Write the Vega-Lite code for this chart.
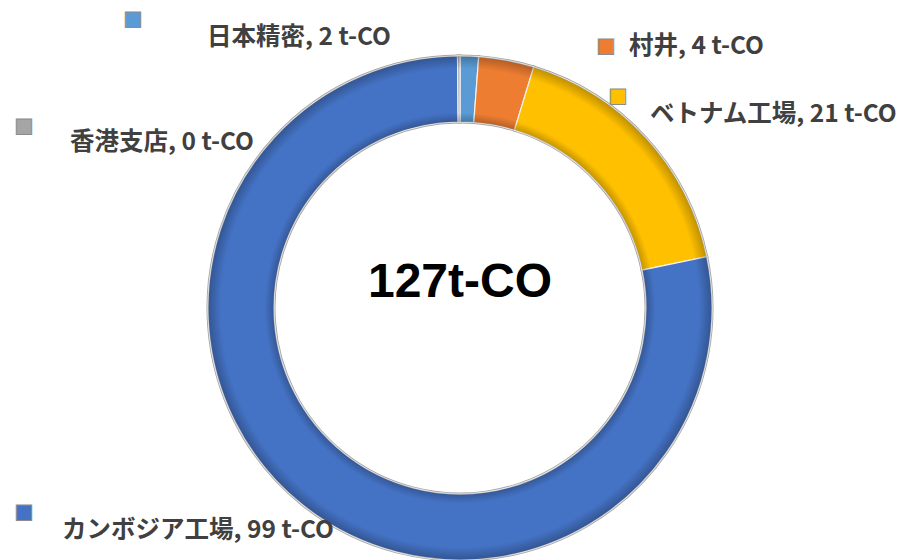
{
  "$schema": "https://vega.github.io/schema/vega-lite/v6.json",
  "width": 896,
  "height": 504,
  "padding": {"left": 12, "top": 56, "right": 0, "bottom": 0},
  "autosize": {"type": "none"},
  "background": "white",
  "view": {"stroke": null},
  "datasets": {
    "emissions": [
      {"name": "日本精密", "value": 1.5, "order": 1, "label": "日本精密, 2 t-CO"},
      {"name": "村井", "value": 4.5, "order": 2, "label": "村井, 4 t-CO"},
      {"name": "ベトナム工場", "value": 21.6, "order": 3, "label": "ベトナム工場, 21 t-CO"},
      {"name": "カンボジア工場", "value": 99.2, "order": 4, "label": "カンボジア工場, 99 t-CO"},
      {"name": "香港支店", "value": 0.2, "order": 5, "label": "香港支店, 0 t-CO"}
    ],
    "total": [{"total": 127, "label": "127t-CO"}]
  },
  "data": {"name": "emissions"},
  "layer": [
    {
      "mark": {"type": "arc", "radius": 252, "innerRadius": 186, "stroke": "#A6A6A6", "strokeWidth": 3},
      "encoding": {
        "theta": {"field": "value", "type": "quantitative", "stack": true},
        "order": {"field": "order", "type": "quantitative"},
        "color": {"field": "name", "type": "nominal", "legend": null,
          "scale": {"domain": ["日本精密", "村井", "ベトナム工場", "カンボジア工場", "香港支店"],
                    "range": ["#5B9BD5", "#ED7D31", "#FFC000", "#4472C4", "#A5A5A5"]}}
      }
    },
    {
      "mark": {"type": "arc", "radius": 252, "innerRadius": 186, "stroke": "#F2F2F2", "strokeWidth": 1.2},
      "encoding": {
        "theta": {"field": "value", "type": "quantitative", "stack": true},
        "order": {"field": "order", "type": "quantitative"},
        "color": {"field": "name", "type": "nominal", "legend": null}
      }
    },
    {
      "data": {"name": "total"},
      "mark": {"type": "arc", "radius": 252, "innerRadius": 186, "strokeWidth": 0,
        "fill": {"gradient": "radial", "x1": 0.5, "y1": 0.5, "r1": 0, "x2": 0.5, "y2": 0.5, "r2": 0.5,
          "stops": [
            {"offset": 0, "color": "rgba(0,0,0,0)"},
            {"offset": 0.74, "color": "rgba(0,0,0,0.22)"},
            {"offset": 0.775, "color": "rgba(0,0,0,0)"},
            {"offset": 0.95, "color": "rgba(0,0,0,0)"},
            {"offset": 1, "color": "rgba(0,0,0,0.25)"}
          ]}},
      "encoding": {"theta": {"field": "total", "type": "quantitative"}}
    },
    {
      "data": {"name": "total"},
      "mark": {"type": "text", "font": "Liberation Sans", "fontWeight": "bold", "fontSize": 48, "color": "black", "align": "center", "baseline": "alphabetic", "dy": -11},
      "encoding": {"text": {"field": "label", "type": "nominal"}}
    },
    {
      "transform": [{"filter": "datum.name == '日本精密'"}],
      "mark": {"type": "text", "text": "■", "font": "DejaVu Sans", "fontSize": 20, "align": "center", "baseline": "middle", "stroke": "#8C8C8C", "strokeWidth": 1, "dx": -327, "dy": -289},
      "encoding": {"color": {"field": "name", "type": "nominal", "legend": null}}
    },
    {
      "transform": [{"filter": "datum.name == '村井'"}],
      "mark": {"type": "text", "text": "■", "font": "DejaVu Sans", "fontSize": 20, "align": "center", "baseline": "middle", "stroke": "#8C8C8C", "strokeWidth": 1, "dx": 146, "dy": -262},
      "encoding": {"color": {"field": "name", "type": "nominal", "legend": null}}
    },
    {
      "transform": [{"filter": "datum.name == 'ベトナム工場'"}],
      "mark": {"type": "text", "text": "■", "font": "DejaVu Sans", "fontSize": 20, "align": "center", "baseline": "middle", "stroke": "#8C8C8C", "strokeWidth": 1, "dx": 158, "dy": -212},
      "encoding": {"color": {"field": "name", "type": "nominal", "legend": null}}
    },
    {
      "transform": [{"filter": "datum.name == '香港支店'"}],
      "mark": {"type": "text", "text": "■", "font": "DejaVu Sans", "fontSize": 20, "align": "center", "baseline": "middle", "stroke": "#8C8C8C", "strokeWidth": 1, "dx": -436, "dy": -182},
      "encoding": {"color": {"field": "name", "type": "nominal", "legend": null}}
    },
    {
      "transform": [{"filter": "datum.name == 'カンボジア工場'"}],
      "mark": {"type": "text", "text": "■", "font": "DejaVu Sans", "fontSize": 20, "align": "center", "baseline": "middle", "stroke": "#8C8C8C", "strokeWidth": 1, "dx": -436, "dy": 204},
      "encoding": {"color": {"field": "name", "type": "nominal", "legend": null}}
    },
    {
      "transform": [{"filter": "datum.name == '日本精密'"}],
      "mark": {"type": "text", "font": "Noto Sans CJK JP", "fontWeight": "bold", "fontSize": 24.5, "color": "#404040", "align": "left", "baseline": "middle", "dx": -253, "dy": -270},
      "encoding": {"text": {"field": "label", "type": "nominal"}}
    },
    {
      "transform": [{"filter": "datum.name == '村井'"}],
      "mark": {"type": "text", "font": "Noto Sans CJK JP", "fontWeight": "bold", "fontSize": 24.5, "color": "#404040", "align": "left", "baseline": "middle", "dx": 169, "dy": -261},
      "encoding": {"text": {"field": "label", "type": "nominal"}}
    },
    {
      "transform": [{"filter": "datum.name == 'ベトナム工場'"}],
      "mark": {"type": "text", "font": "Noto Sans CJK JP", "fontWeight": "bold", "fontSize": 24.5, "color": "#404040", "align": "left", "baseline": "middle", "dx": 190, "dy": -193},
      "encoding": {"text": {"field": "label", "type": "nominal"}}
    },
    {
      "transform": [{"filter": "datum.name == '香港支店'"}],
      "mark": {"type": "text", "font": "Noto Sans CJK JP", "fontWeight": "bold", "fontSize": 24.5, "color": "#404040", "align": "left", "baseline": "middle", "dx": -390, "dy": -165},
      "encoding": {"text": {"field": "label", "type": "nominal"}}
    },
    {
      "transform": [{"filter": "datum.name == 'カンボジア工場'"}],
      "mark": {"type": "text", "font": "Noto Sans CJK JP", "fontWeight": "bold", "fontSize": 24.5, "color": "#404040", "align": "left", "baseline": "middle", "dx": -398, "dy": 223},
      "encoding": {"text": {"field": "label", "type": "nominal"}}
    }
  ]
}
